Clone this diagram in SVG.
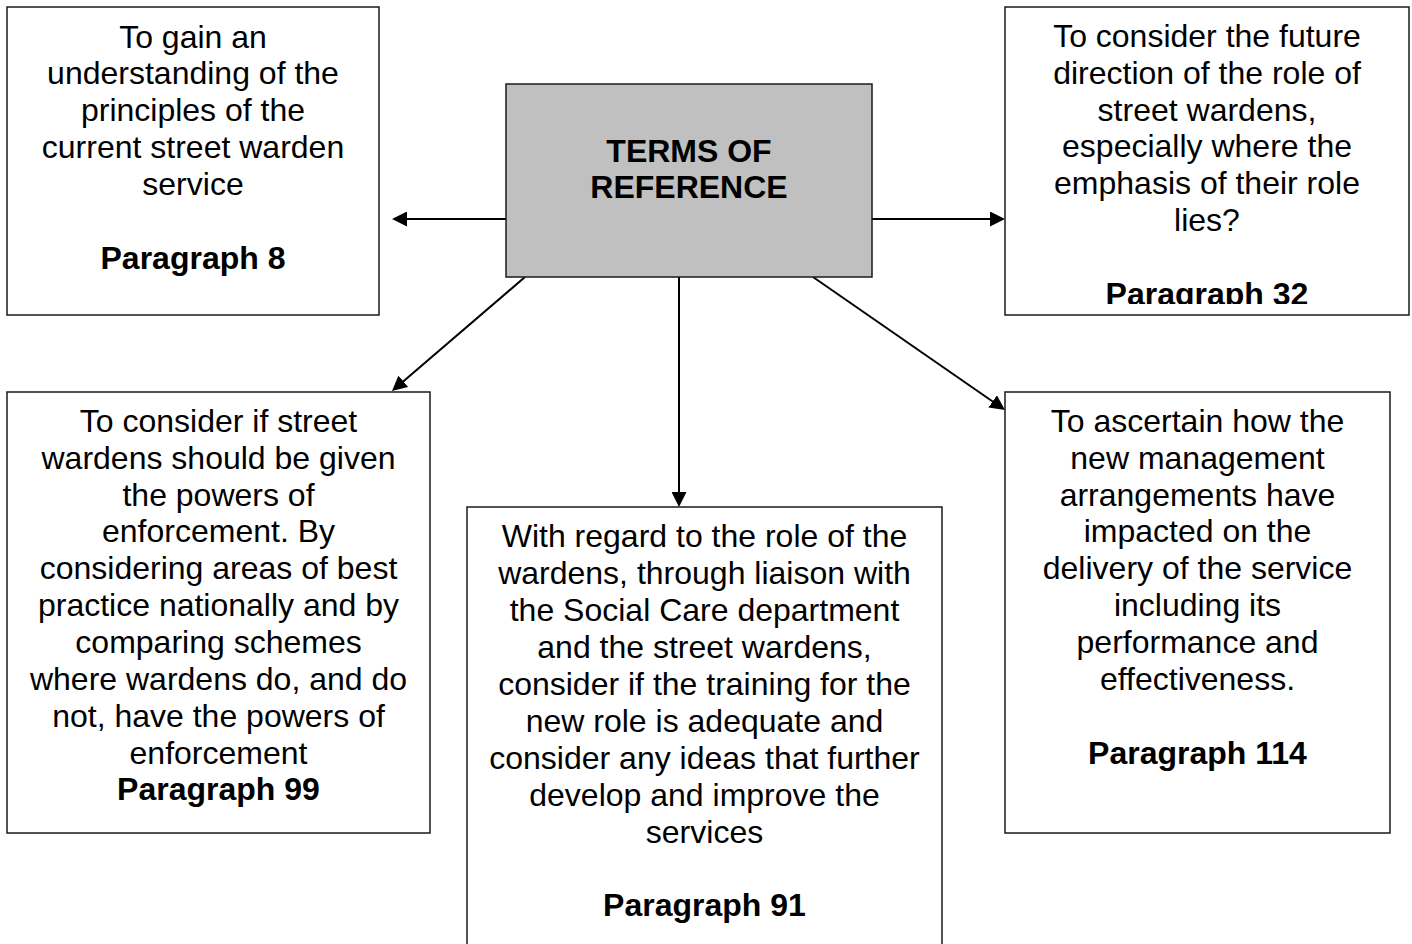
<svg xmlns="http://www.w3.org/2000/svg" width="1412" height="944" viewBox="0 0 1412 944">
<style>
.box{fill:#fff;stroke:#1a1a1a;stroke-width:1.5}
.hub{fill:#c0c0c0;stroke:#1a1a1a;stroke-width:1.5}
.t{font-family:"Liberation Sans",Arial,sans-serif;font-size:32px;fill:#000;text-anchor:middle}
.b{font-weight:bold}
.conn{fill:none;stroke:#000;stroke-width:2;marker-end:url(#ah)}
</style>
<defs>
<marker id="ah" viewBox="0 0 15 15" refX="11" refY="7.5" markerWidth="15" markerHeight="15" markerUnits="userSpaceOnUse" orient="auto">
<path d="M0,0 L15,7.5 L0,15 z" fill="#000"/>
</marker>
<clipPath id="clipTR"><rect x="1005" y="7" width="404" height="297"/></clipPath>
</defs>
<rect width="1412" height="944" fill="#fff"/>
<g id="connectors">
<line class="conn" x1="506" y1="219" x2="396" y2="219"/>
<line class="conn" x1="872" y1="219" x2="1001" y2="219"/>
<line class="conn" x1="525" y1="277" x2="395" y2="388.4"/>
<line class="conn" x1="679" y1="277" x2="679" y2="503"/>
<line class="conn" x1="813" y1="277" x2="1001.7" y2="407.7"/>
</g>
<g id="hub">
<rect class="hub" x="506" y="84" width="366" height="193"/>
<text class="t b" x="689"><tspan x="689" y="161.5">TERMS OF</tspan><tspan x="689" y="198.3">REFERENCE</tspan></text>
</g>
<g id="node-p8">
<rect class="box" x="7" y="7" width="372" height="308"/>
<text class="t" x="193"><tspan x="193" y="47.5">To gain an</tspan><tspan x="193" y="84.3">understanding of the</tspan><tspan x="193" y="121.1">principles of the</tspan><tspan x="193" y="157.9">current street warden</tspan><tspan x="193" y="194.7">service</tspan></text>
<text class="t b" x="193" y="268.5">Paragraph 8</text>
</g>
<g id="node-p32">
<rect class="box" x="1005" y="7" width="404" height="308"/>
<g clip-path="url(#clipTR)">
<text class="t" x="1207"><tspan x="1207" y="47">To consider the future</tspan><tspan x="1207" y="83.8">direction of the role of</tspan><tspan x="1207" y="120.6">street wardens,</tspan><tspan x="1207" y="157.4">especially where the</tspan><tspan x="1207" y="194.2">emphasis of their role</tspan><tspan x="1207" y="231">lies?</tspan></text>
<text class="t b" x="1207" y="304.6">Paragraph 32</text>
</g>
</g>
<g id="node-p99">
<rect class="box" x="7" y="392" width="423" height="441"/>
<text class="t" x="218.5"><tspan x="218.5" y="431.7">To consider if street</tspan><tspan x="218.5" y="468.6">wardens should be given</tspan><tspan x="218.5" y="505.5">the powers of</tspan><tspan x="218.5" y="542.4">enforcement. By</tspan><tspan x="218.5" y="579.3">considering areas of best</tspan><tspan x="218.5" y="616.2">practice nationally and by</tspan><tspan x="218.5" y="653.1">comparing schemes</tspan><tspan x="218.5" y="690">where wardens do, and do</tspan><tspan x="218.5" y="726.9">not, have the powers of</tspan><tspan x="218.5" y="763.8">enforcement</tspan></text>
<text class="t b" x="218.5" y="800.4">Paragraph 99</text>
</g>
<g id="node-p91">
<rect class="box" x="467" y="507" width="475" height="460"/>
<text class="t" x="704.5"><tspan x="704.5" y="547.3">With regard to the role of the</tspan><tspan x="704.5" y="584.2">wardens, through liaison with</tspan><tspan x="704.5" y="621.1">the Social Care department</tspan><tspan x="704.5" y="658">and the street wardens,</tspan><tspan x="704.5" y="694.9">consider if the training for the</tspan><tspan x="704.5" y="731.8">new role is adequate and</tspan><tspan x="704.5" y="768.7">consider any ideas that further</tspan><tspan x="704.5" y="805.6">develop and improve the</tspan><tspan x="704.5" y="842.5">services</tspan></text>
<text class="t b" x="704.5" y="916.3">Paragraph 91</text>
</g>
<g id="node-p114">
<rect class="box" x="1005" y="392" width="385" height="441"/>
<text class="t" x="1197.5"><tspan x="1197.5" y="431.7">To ascertain how the</tspan><tspan x="1197.5" y="468.6">new management</tspan><tspan x="1197.5" y="505.5">arrangements have</tspan><tspan x="1197.5" y="542.4">impacted on the</tspan><tspan x="1197.5" y="579.3">delivery of the service</tspan><tspan x="1197.5" y="616.2">including its</tspan><tspan x="1197.5" y="653.1">performance and</tspan><tspan x="1197.5" y="690">effectiveness.</tspan></text>
<text class="t b" x="1197.5" y="763.8">Paragraph 114</text>
</g>
</svg>
